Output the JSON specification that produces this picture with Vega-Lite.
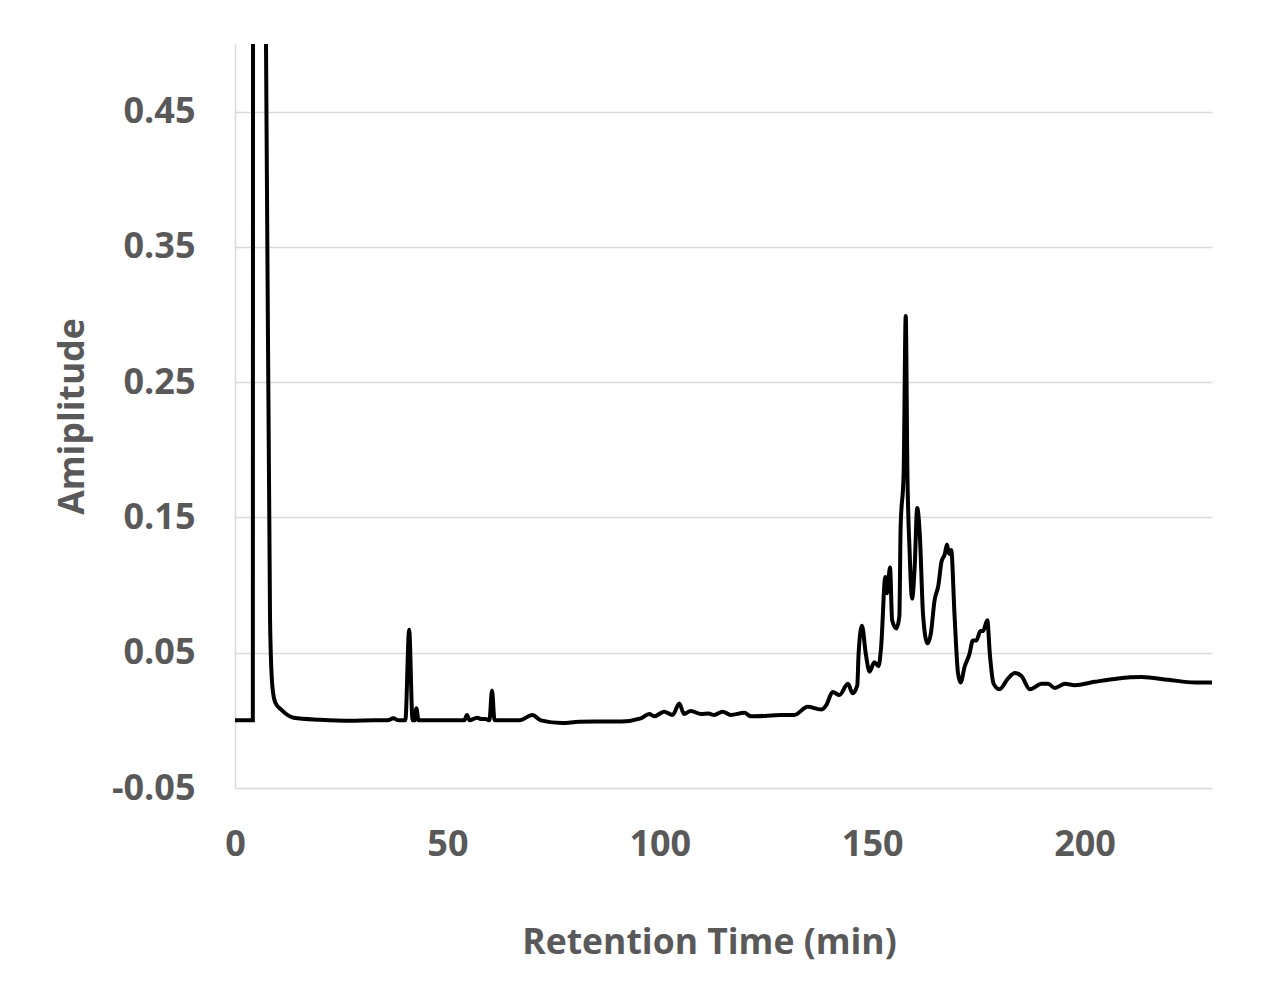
{
  "$schema": "https://vega.github.io/schema/vega-lite/v6.json",
  "width": 977,
  "height": 744,
  "autosize": {"type": "none"},
  "padding": {"left": 235, "top": 44, "right": 64, "bottom": 195},
  "background": "white",
  "config": {"view": {"stroke": null}, "font": "Open Sans"},
  "data": {"values": [
    {"t": 0, "v": 0}, {"t": 4.2, "v": 0}, {"t": 4.25, "v": 0.6}, {"t": 6.9, "v": 0.6}, {"t": 7.3, "v": 0.5},
    {"t": 8.25, "v": 0.074}, {"t": 8.8, "v": 0.025}, {"t": 9.5, "v": 0.013}, {"t": 11, "v": 0.0076},
    {"t": 13.8, "v": 0.002}, {"t": 20, "v": 0.0005}, {"t": 27, "v": -0.0003}, {"t": 33, "v": 0},
    {"t": 36, "v": 0}, {"t": 37.3, "v": 0.0015}, {"t": 38.5, "v": 0}, {"t": 40.1, "v": 0},
    {"t": 41, "v": 0.067}, {"t": 41.8, "v": 0}, {"t": 42.3, "v": 0}, {"t": 42.7, "v": 0.009},
    {"t": 43.2, "v": 0}, {"t": 54, "v": 0}, {"t": 54.6, "v": 0.004}, {"t": 55.2, "v": 0},
    {"t": 57, "v": 0.002}, {"t": 58, "v": 0.001}, {"t": 59, "v": 0.001}, {"t": 59.9, "v": 0},
    {"t": 60.5, "v": 0.022}, {"t": 61.1, "v": 0}, {"t": 67, "v": 0}, {"t": 70, "v": 0.004},
    {"t": 72, "v": 0}, {"t": 77, "v": -0.002}, {"t": 81, "v": -0.001}, {"t": 91, "v": -0.0008},
    {"t": 95.5, "v": 0.0015}, {"t": 97.5, "v": 0.0047}, {"t": 98.7, "v": 0.003}, {"t": 101, "v": 0.0064},
    {"t": 103, "v": 0.004}, {"t": 104.6, "v": 0.0125}, {"t": 105.7, "v": 0.0047}, {"t": 107.3, "v": 0.007},
    {"t": 109.7, "v": 0.0047}, {"t": 111.5, "v": 0.005}, {"t": 112.8, "v": 0.004}, {"t": 114.8, "v": 0.0064},
    {"t": 116.7, "v": 0.004}, {"t": 119.9, "v": 0.0056}, {"t": 121.5, "v": 0.003}, {"t": 128.5, "v": 0.0039},
    {"t": 131.7, "v": 0.004}, {"t": 134.8, "v": 0.010}, {"t": 138, "v": 0.008}, {"t": 139.2, "v": 0.0113},
    {"t": 140.7, "v": 0.021}, {"t": 142.3, "v": 0.0187}, {"t": 144.3, "v": 0.027}, {"t": 145.4, "v": 0.020},
    {"t": 146.5, "v": 0.026}, {"t": 146.8, "v": 0.049}, {"t": 147.6, "v": 0.070}, {"t": 148.5, "v": 0.049},
    {"t": 149.4, "v": 0.036}, {"t": 150.5, "v": 0.043}, {"t": 151.5, "v": 0.040}, {"t": 152.1, "v": 0.054},
    {"t": 153.1, "v": 0.106}, {"t": 153.5, "v": 0.094}, {"t": 154.2, "v": 0.113}, {"t": 154.7, "v": 0.074},
    {"t": 155.7, "v": 0.068}, {"t": 156.4, "v": 0.077}, {"t": 156.7, "v": 0.143}, {"t": 157.4, "v": 0.182},
    {"t": 157.9, "v": 0.299}, {"t": 158.3, "v": 0.182}, {"t": 158.8, "v": 0.126}, {"t": 159.4, "v": 0.090},
    {"t": 160, "v": 0.113}, {"t": 160.6, "v": 0.157}, {"t": 161.2, "v": 0.138}, {"t": 162, "v": 0.077},
    {"t": 163, "v": 0.057}, {"t": 163.8, "v": 0.064}, {"t": 164.7, "v": 0.089}, {"t": 165.6, "v": 0.100},
    {"t": 166.3, "v": 0.117}, {"t": 167.1, "v": 0.123}, {"t": 167.6, "v": 0.130}, {"t": 168.1, "v": 0.123},
    {"t": 168.6, "v": 0.126}, {"t": 169.4, "v": 0.077}, {"t": 170.2, "v": 0.035}, {"t": 170.8, "v": 0.028},
    {"t": 171.8, "v": 0.040}, {"t": 172.9, "v": 0.049}, {"t": 173.7, "v": 0.059}, {"t": 174.5, "v": 0.059},
    {"t": 175.5, "v": 0.066}, {"t": 176.1, "v": 0.066}, {"t": 177.1, "v": 0.074}, {"t": 177.7, "v": 0.049},
    {"t": 178.6, "v": 0.027}, {"t": 180, "v": 0.023}, {"t": 182, "v": 0.031}, {"t": 183.6, "v": 0.035},
    {"t": 185.1, "v": 0.033}, {"t": 187.1, "v": 0.023}, {"t": 189.9, "v": 0.027}, {"t": 191.4, "v": 0.027},
    {"t": 193, "v": 0.024}, {"t": 195.4, "v": 0.027}, {"t": 197.7, "v": 0.026}, {"t": 202.4, "v": 0.0285},
    {"t": 207.9, "v": 0.031}, {"t": 213.4, "v": 0.032}, {"t": 219.7, "v": 0.030}, {"t": 226, "v": 0.028},
    {"t": 230.4, "v": 0.028}
  ]},
  "mark": {"type": "line", "color": "black", "strokeWidth": 4, "interpolate": "monotone", "clip": true},
  "encoding": {
    "x": {
      "field": "t", "type": "quantitative",
      "scale": {"domain": [0, 230], "nice": false, "zero": false},
      "axis": {
        "values": [0, 50, 100, 150, 200], "grid": false, "domain": false, "ticks": false, "tickSize": 0,
        "labelFont": "Open Sans", "labelFontWeight": "bold", "labelFontSize": 36, "labelColor": "#595959",
        "labelBaseline": "alphabetic", "labelPadding": 67, "labelFlush": false, "labelOverlap": false,
        "title": "Retention Time (min)", "titleFont": "Open Sans", "titleFontWeight": "bold",
        "titleFontSize": 35.5, "titleColor": "#595959", "titleX": 474, "titleY": 165,
        "titleBaseline": "alphabetic", "titleAlign": "center"
      }
    },
    "y": {
      "field": "v", "type": "quantitative",
      "scale": {"domain": [-0.05, 0.5], "nice": false, "zero": false},
      "axis": {
        "values": [-0.05, 0.05, 0.15, 0.25, 0.35, 0.45],
        "labelExpr": "datum.value < 0 ? '-' + format(-datum.value, '.2f') : format(datum.value, '.2f')",
        "grid": true, "gridColor": "#d9d9d9", "gridWidth": 1.5,
        "domain": true, "domainColor": "#d9d9d9", "domainWidth": 1.5,
        "ticks": false, "tickSize": 0,
        "labelFont": "Open Sans", "labelFontWeight": "bold", "labelFontSize": 36, "labelColor": "#595959",
        "labelPadding": 40, "labelBaseline": "middle", "labelOverlap": false, "labelFlush": false,
        "title": "Amiplitude", "titleFont": "Open Sans", "titleFontWeight": "bold",
        "titleFontSize": 35.5, "titleColor": "#595959", "titleX": -152, "titleY": 372,
        "titleBaseline": "alphabetic", "titleAlign": "center", "titleAngle": -90
      }
    }
  }
}
